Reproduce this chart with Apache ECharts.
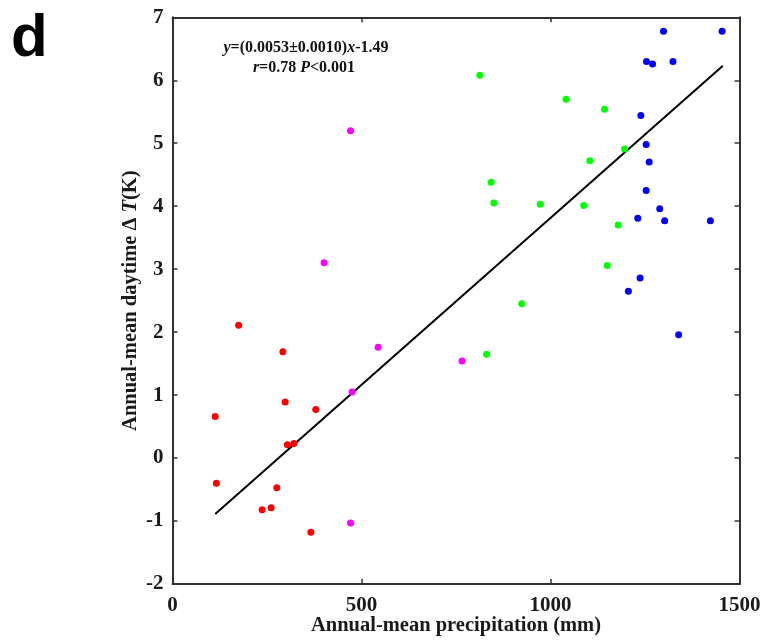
<!DOCTYPE html>
<html>
<head>
<meta charset="utf-8">
<script src="https://cdn.jsdelivr.net/npm/echarts@6/dist/echarts.min.js"></script>
<style>
html,body{margin:0;padding:0;background:#fff;}
#c{width:768px;height:641px;}
</style>
</head>
<body>
<div id="c"></div>
<script>
// Data (x: precipitation mm, y: ΔT K)
const redX = [175, 292, 298, 379, 113, 304, 321, 116, 276, 237, 261, 366];
const redY = [2.11, 1.69, 0.89, 0.77, 0.66, 0.21, 0.23, -0.40, -0.47, -0.82, -0.79, -1.18];
const magentaX = [471, 401, 544, 475, 471, 766];
const magentaY = [5.20, 3.10, 1.76, 1.05, -1.03, 1.54];
const greenX = [813, 1041, 1143, 1196, 1104, 843, 850, 973, 1088, 1179, 1150, 924, 831];
const greenY = [6.08, 5.70, 5.54, 4.91, 4.72, 4.38, 4.05, 4.03, 4.01, 3.70, 3.06, 2.45, 1.65];
const blueX = [1299, 1454, 1254, 1270, 1324, 1239, 1253, 1261, 1253, 1289, 1231, 1302, 1423, 1237, 1206, 1339];
const blueY = [6.78, 6.78, 6.30, 6.26, 6.30, 5.44, 4.98, 4.70, 4.25, 3.96, 3.81, 3.77, 3.77, 2.86, 2.65, 1.96];
const fitX = [113, 1456];
const fitY = [-0.89, 6.23];
const xTicks = [0, 500, 1000, 1500];
const yTicks = [-2, -1, 0, 1, 2, 3, 4, 5, 6, 7];

const zip = (xs, ys) => xs.map((x, i) => [x, ys[i]]);
const serif = '"Liberation Serif", "Times New Roman", serif';
const axisCol = '#333';

const baseAxisLine = { show: true, onZero: false, lineStyle: { color: axisCol, width: 2 } };
const tickStyle = { show: true, inside: true, length: 5, lineStyle: { color: axisCol, width: 1.5 } };
const labelStyle = { fontFamily: serif, fontWeight: 'bold', fontSize: 21, color: '#1a1a1a', formatter: v => String(v) };

const chart = echarts.init(document.getElementById('c'), null, { renderer: 'canvas' });
chart.setOption({
  animation: false,
  backgroundColor: '#fff',
  grid: { left: 172.5, top: 17.3, right: 28.5, bottom: 57, containLabel: false, outerBoundsMode: 'none' },
  xAxis: [
    {
      type: 'value', min: xTicks[0], max: xTicks[xTicks.length - 1], interval: 500,
      position: 'bottom',
      axisLine: baseAxisLine, axisTick: tickStyle, splitLine: { show: false },
      axisLabel: Object.assign({ margin: 11 }, labelStyle),
      name: 'Annual-mean precipitation (mm)', nameLocation: 'middle', nameGap: 31, nameMoveOverlap: false,
      nameTextStyle: { fontFamily: serif, fontWeight: 'bold', fontSize: 20.5, color: '#1a1a1a' }
    },
    {
      type: 'value', min: xTicks[0], max: xTicks[xTicks.length - 1], interval: 500,
      position: 'top',
      axisLine: baseAxisLine, axisTick: tickStyle, splitLine: { show: false },
      axisLabel: { show: false }
    }
  ],
  yAxis: [
    {
      type: 'value', min: yTicks[0], max: yTicks[yTicks.length - 1], interval: 1,
      position: 'left',
      axisLine: baseAxisLine, axisTick: tickStyle, splitLine: { show: false },
      axisLabel: Object.assign({ margin: 9 }, labelStyle),
      name: '{n|Annual-mean daytime Δ }{i|T}{n|(K)}', nameLocation: 'middle', nameGap: 31, nameMoveOverlap: false,
      nameTextStyle: {
        rich: {
          n: { fontFamily: serif, fontWeight: 'bold', fontSize: 20.5, color: '#1a1a1a' },
          i: { fontFamily: serif, fontWeight: 'bold', fontStyle: 'italic', fontSize: 20.5, color: '#1a1a1a' }
        }
      }
    },
    {
      type: 'value', min: yTicks[0], max: yTicks[yTicks.length - 1], interval: 1,
      position: 'right',
      axisLine: baseAxisLine, axisTick: tickStyle, splitLine: { show: false },
      axisLabel: { show: false }
    }
  ],
  series: [
    { type: 'line', data: zip(fitX, fitY), showSymbol: false, symbol: 'none',
      lineStyle: { color: '#000', width: 2 }, z: 1 },
    { type: 'scatter', data: zip(redX, redY), symbolSize: 7, itemStyle: { color: '#ff0000', opacity: 1 }, z: 3 },
    { type: 'scatter', data: zip(magentaX, magentaY), symbolSize: 7, itemStyle: { color: '#ff00ff', opacity: 1 }, z: 3 },
    { type: 'scatter', data: zip(greenX, greenY), symbolSize: 7, itemStyle: { color: '#00ff00', opacity: 1 }, z: 3 },
    { type: 'scatter', data: zip(blueX, blueY), symbolSize: 7, itemStyle: { color: '#0000ff', opacity: 1 }, z: 3 }
  ],
  graphic: [
    { type: 'text', left: 11, top: 9,
      style: { text: 'd', fontFamily: '"Liberation Sans", Arial, sans-serif', fontWeight: 'bold', fontSize: 60, fill: '#000' } },
    { type: 'text', x: 306, y: 48,
      style: {
        text: '{i|y}{n|=(0.0053±0.0010)}{i|x}{n|-1.49}',
        align: 'center', verticalAlign: 'middle',
        rich: {
          n: { fontFamily: serif, fontWeight: 'bold', fontSize: 16, fill: '#111' },
          i: { fontFamily: serif, fontWeight: 'bold', fontStyle: 'italic', fontSize: 16, fill: '#111' }
        }
      } },
    { type: 'text', x: 304, y: 68,
      style: {
        text: '{i|r}{n|=0.78 }{i|P}{n|<0.001}',
        align: 'center', verticalAlign: 'middle',
        rich: {
          n: { fontFamily: serif, fontWeight: 'bold', fontSize: 16, fill: '#111' },
          i: { fontFamily: serif, fontWeight: 'bold', fontStyle: 'italic', fontSize: 16, fill: '#111' }
        }
      } }
  ]
});
</script>
</body>
</html>
